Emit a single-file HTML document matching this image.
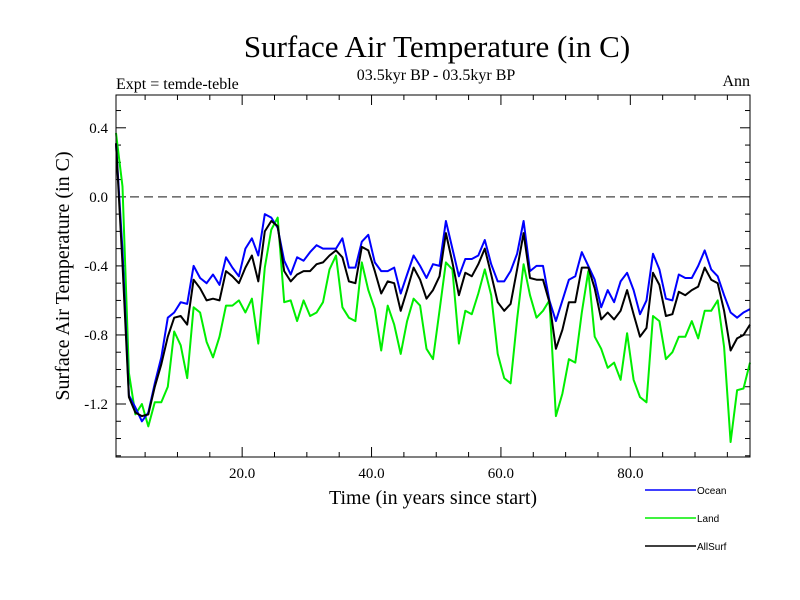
<!DOCTYPE html>
<html><head><meta charset="utf-8"><style>
body{margin:0;background:#fff;}
svg{display:block;}
</style></head><body>
<svg id="chart" width="800" height="600" xmlns="http://www.w3.org/2000/svg">
<rect width="800" height="600" fill="#fff"/>
<text x="437" y="57" text-anchor="middle" font-family="Liberation Serif, serif" font-size="31">Surface Air Temperature (in C)</text>
<text x="436" y="80" text-anchor="middle" font-family="Liberation Serif, serif" font-size="16">03.5kyr BP - 03.5kyr BP</text>
<text x="116" y="89" font-family="Liberation Serif, serif" font-size="16">Expt = temde-teble</text>
<text x="750" y="86" text-anchor="end" font-family="Liberation Serif, serif" font-size="16">Ann</text>
<text transform="translate(69,276) rotate(-90)" text-anchor="middle" font-family="Liberation Serif, serif" font-size="20">Surface Air Temperature (in C)</text>
<text x="433" y="504" text-anchor="middle" font-family="Liberation Serif, serif" font-size="20">Time (in years since start)</text>
<g id="axes"></g>
<g id="series"></g>
<rect x="116" y="95" width="634" height="362" fill="none" stroke="#000" stroke-width="1"/>
<g id="legend"></g>
</svg>
<script>
const yTicks = [0.4, 0.0, -0.4, -0.8, -1.2];
const yTickLabels = ["0.4", "0.0", "-0.4", "-0.8", "-1.2"];
const xTicks = [20, 40, 60, 80];
const xTickLabels = ["20.0", "40.0", "60.0", "80.0"];
const ocean = [0.31,-0.31,-1.15,-1.22,-1.30,-1.25,-1.08,-0.93,-0.70,-0.67,-0.61,-0.62,-0.40,-0.47,-0.50,-0.45,-0.51,-0.35,-0.41,-0.46,-0.30,-0.24,-0.34,-0.10,-0.12,-0.18,-0.37,-0.45,-0.35,-0.37,-0.32,-0.28,-0.30,-0.30,-0.30,-0.24,-0.41,-0.41,-0.26,-0.22,-0.38,-0.43,-0.43,-0.41,-0.56,-0.45,-0.34,-0.40,-0.47,-0.39,-0.40,-0.14,-0.30,-0.46,-0.36,-0.36,-0.34,-0.25,-0.39,-0.49,-0.49,-0.43,-0.33,-0.14,-0.43,-0.40,-0.40,-0.60,-0.72,-0.60,-0.48,-0.46,-0.32,-0.40,-0.48,-0.64,-0.54,-0.61,-0.49,-0.44,-0.54,-0.68,-0.60,-0.33,-0.42,-0.59,-0.60,-0.45,-0.47,-0.47,-0.40,-0.31,-0.42,-0.46,-0.57,-0.67,-0.70,-0.67,-0.65];
const land = [0.37,0.06,-1.02,-1.26,-1.20,-1.33,-1.19,-1.19,-1.10,-0.78,-0.86,-1.05,-0.64,-0.67,-0.84,-0.93,-0.81,-0.63,-0.63,-0.60,-0.67,-0.59,-0.85,-0.41,-0.19,-0.12,-0.61,-0.60,-0.72,-0.60,-0.69,-0.67,-0.61,-0.42,-0.34,-0.64,-0.70,-0.72,-0.38,-0.54,-0.65,-0.89,-0.63,-0.74,-0.91,-0.72,-0.59,-0.63,-0.88,-0.94,-0.66,-0.38,-0.42,-0.85,-0.66,-0.68,-0.56,-0.42,-0.57,-0.91,-1.05,-1.08,-0.71,-0.39,-0.57,-0.70,-0.66,-0.60,-1.27,-1.14,-0.94,-0.96,-0.67,-0.43,-0.81,-0.88,-0.99,-0.96,-1.06,-0.79,-1.06,-1.16,-1.19,-0.69,-0.72,-0.94,-0.90,-0.81,-0.81,-0.72,-0.82,-0.66,-0.66,-0.60,-0.87,-1.42,-1.12,-1.11,-0.96];
const allSurf = [0.31,-0.39,-1.16,-1.25,-1.27,-1.26,-1.10,-0.97,-0.81,-0.70,-0.69,-0.74,-0.48,-0.53,-0.60,-0.59,-0.60,-0.43,-0.46,-0.50,-0.41,-0.34,-0.49,-0.20,-0.14,-0.17,-0.43,-0.49,-0.45,-0.43,-0.43,-0.39,-0.38,-0.34,-0.31,-0.35,-0.49,-0.50,-0.29,-0.31,-0.43,-0.56,-0.49,-0.50,-0.66,-0.54,-0.41,-0.48,-0.59,-0.54,-0.46,-0.21,-0.38,-0.57,-0.44,-0.46,-0.39,-0.30,-0.45,-0.61,-0.66,-0.62,-0.42,-0.21,-0.47,-0.48,-0.48,-0.61,-0.88,-0.77,-0.61,-0.61,-0.41,-0.41,-0.53,-0.71,-0.67,-0.71,-0.66,-0.54,-0.68,-0.81,-0.76,-0.44,-0.51,-0.69,-0.68,-0.55,-0.57,-0.54,-0.52,-0.41,-0.48,-0.50,-0.66,-0.89,-0.82,-0.80,-0.74];
const seriesNames = ["Ocean", "Land", "AllSurf"];
const seriesColors = ["#0000ff", "#00ee00", "#000000"];

const L=116, R=750, T=95, B=457;
const xMin=0.5, xMax=98.5, yMin=-1.507, yMax=0.59;
const xs = v => L + (v - xMin) / (xMax - xMin) * (R - L);
const ys = v => B - (v - yMin) / (yMax - yMin) * (B - T);
const NS="http://www.w3.org/2000/svg";
function mk(tag, attrs, parent){const e=document.createElementNS(NS,tag);for(const k in attrs)e.setAttribute(k,attrs[k]);parent.appendChild(e);return e;}
const axes=document.getElementById('axes');
for(let v=-1.5; v<=0.55; v+=0.1){
  const y=ys(v); const major=yTicks.some(t=>Math.abs(t-v)<1e-6); const len=major?10:5;
  const t1=mk('line',{x1:L,x2:L+len,y1:y,y2:y,stroke:'#000'},axes);
  
  
  const t2=mk('line',{x1:R,x2:R-len,y1:y,y2:y,stroke:'#000'},axes);
  
  
}
yTicks.forEach((v,i)=>{
  const t=mk('text',{x:108,y:ys(v)+5,'text-anchor':'end','font-family':'Liberation Serif, serif','font-size':'15'},axes);
  t.textContent=yTickLabels[i];
  
  
});
for(let v=5; v<=95; v+=5){
  const x=xs(v); const major=(v%20===0); const len=major?10:5;
  const t1=mk('line',{x1:x,x2:x,y1:B,y2:B-len,stroke:'#000'},axes);
  
  
  const t2=mk('line',{x1:x,x2:x,y1:T,y2:T+len,stroke:'#000'},axes);
  
  
}
xTicks.forEach((v,i)=>{
  const t=mk('text',{x:xs(v),y:478,'text-anchor':'middle','font-family':'Liberation Serif, serif','font-size':'15'},axes);
  t.textContent=xTickLabels[i];
  
  
});
const zl=mk('line',{x1:L,x2:R,y1:ys(0),y2:ys(0),stroke:'#444','stroke-dasharray':'9,5','stroke-width':1.2},axes);



const sg=document.getElementById('series');
const data=[ocean, land, allSurf];
const order=[1,0,2];
order.forEach(k=>{
  const arr=data[k];
  const pts=arr.map((v,i)=>xs(xMin+i).toFixed(1)+','+ys(v).toFixed(1)).join(' ');
  const p=mk('polyline',{points:pts,fill:'none',stroke:seriesColors[k],'stroke-width':2,'stroke-linejoin':'round'},sg);
  
  
});
const lg=document.getElementById('legend');
seriesNames.forEach((n,i)=>{
  const y=490+i*28;
  const g=mk('g',{},lg);
  
  
  mk('line',{x1:645,x2:696,y1:y,y2:y,stroke:seriesColors[i],'stroke-width':1.5},g);
  const t=mk('text',{x:697,y:y+4,'font-family':'Liberation Sans, sans-serif','font-size':'10'},g);
  t.textContent=n;
});
</script>
</body></html>
